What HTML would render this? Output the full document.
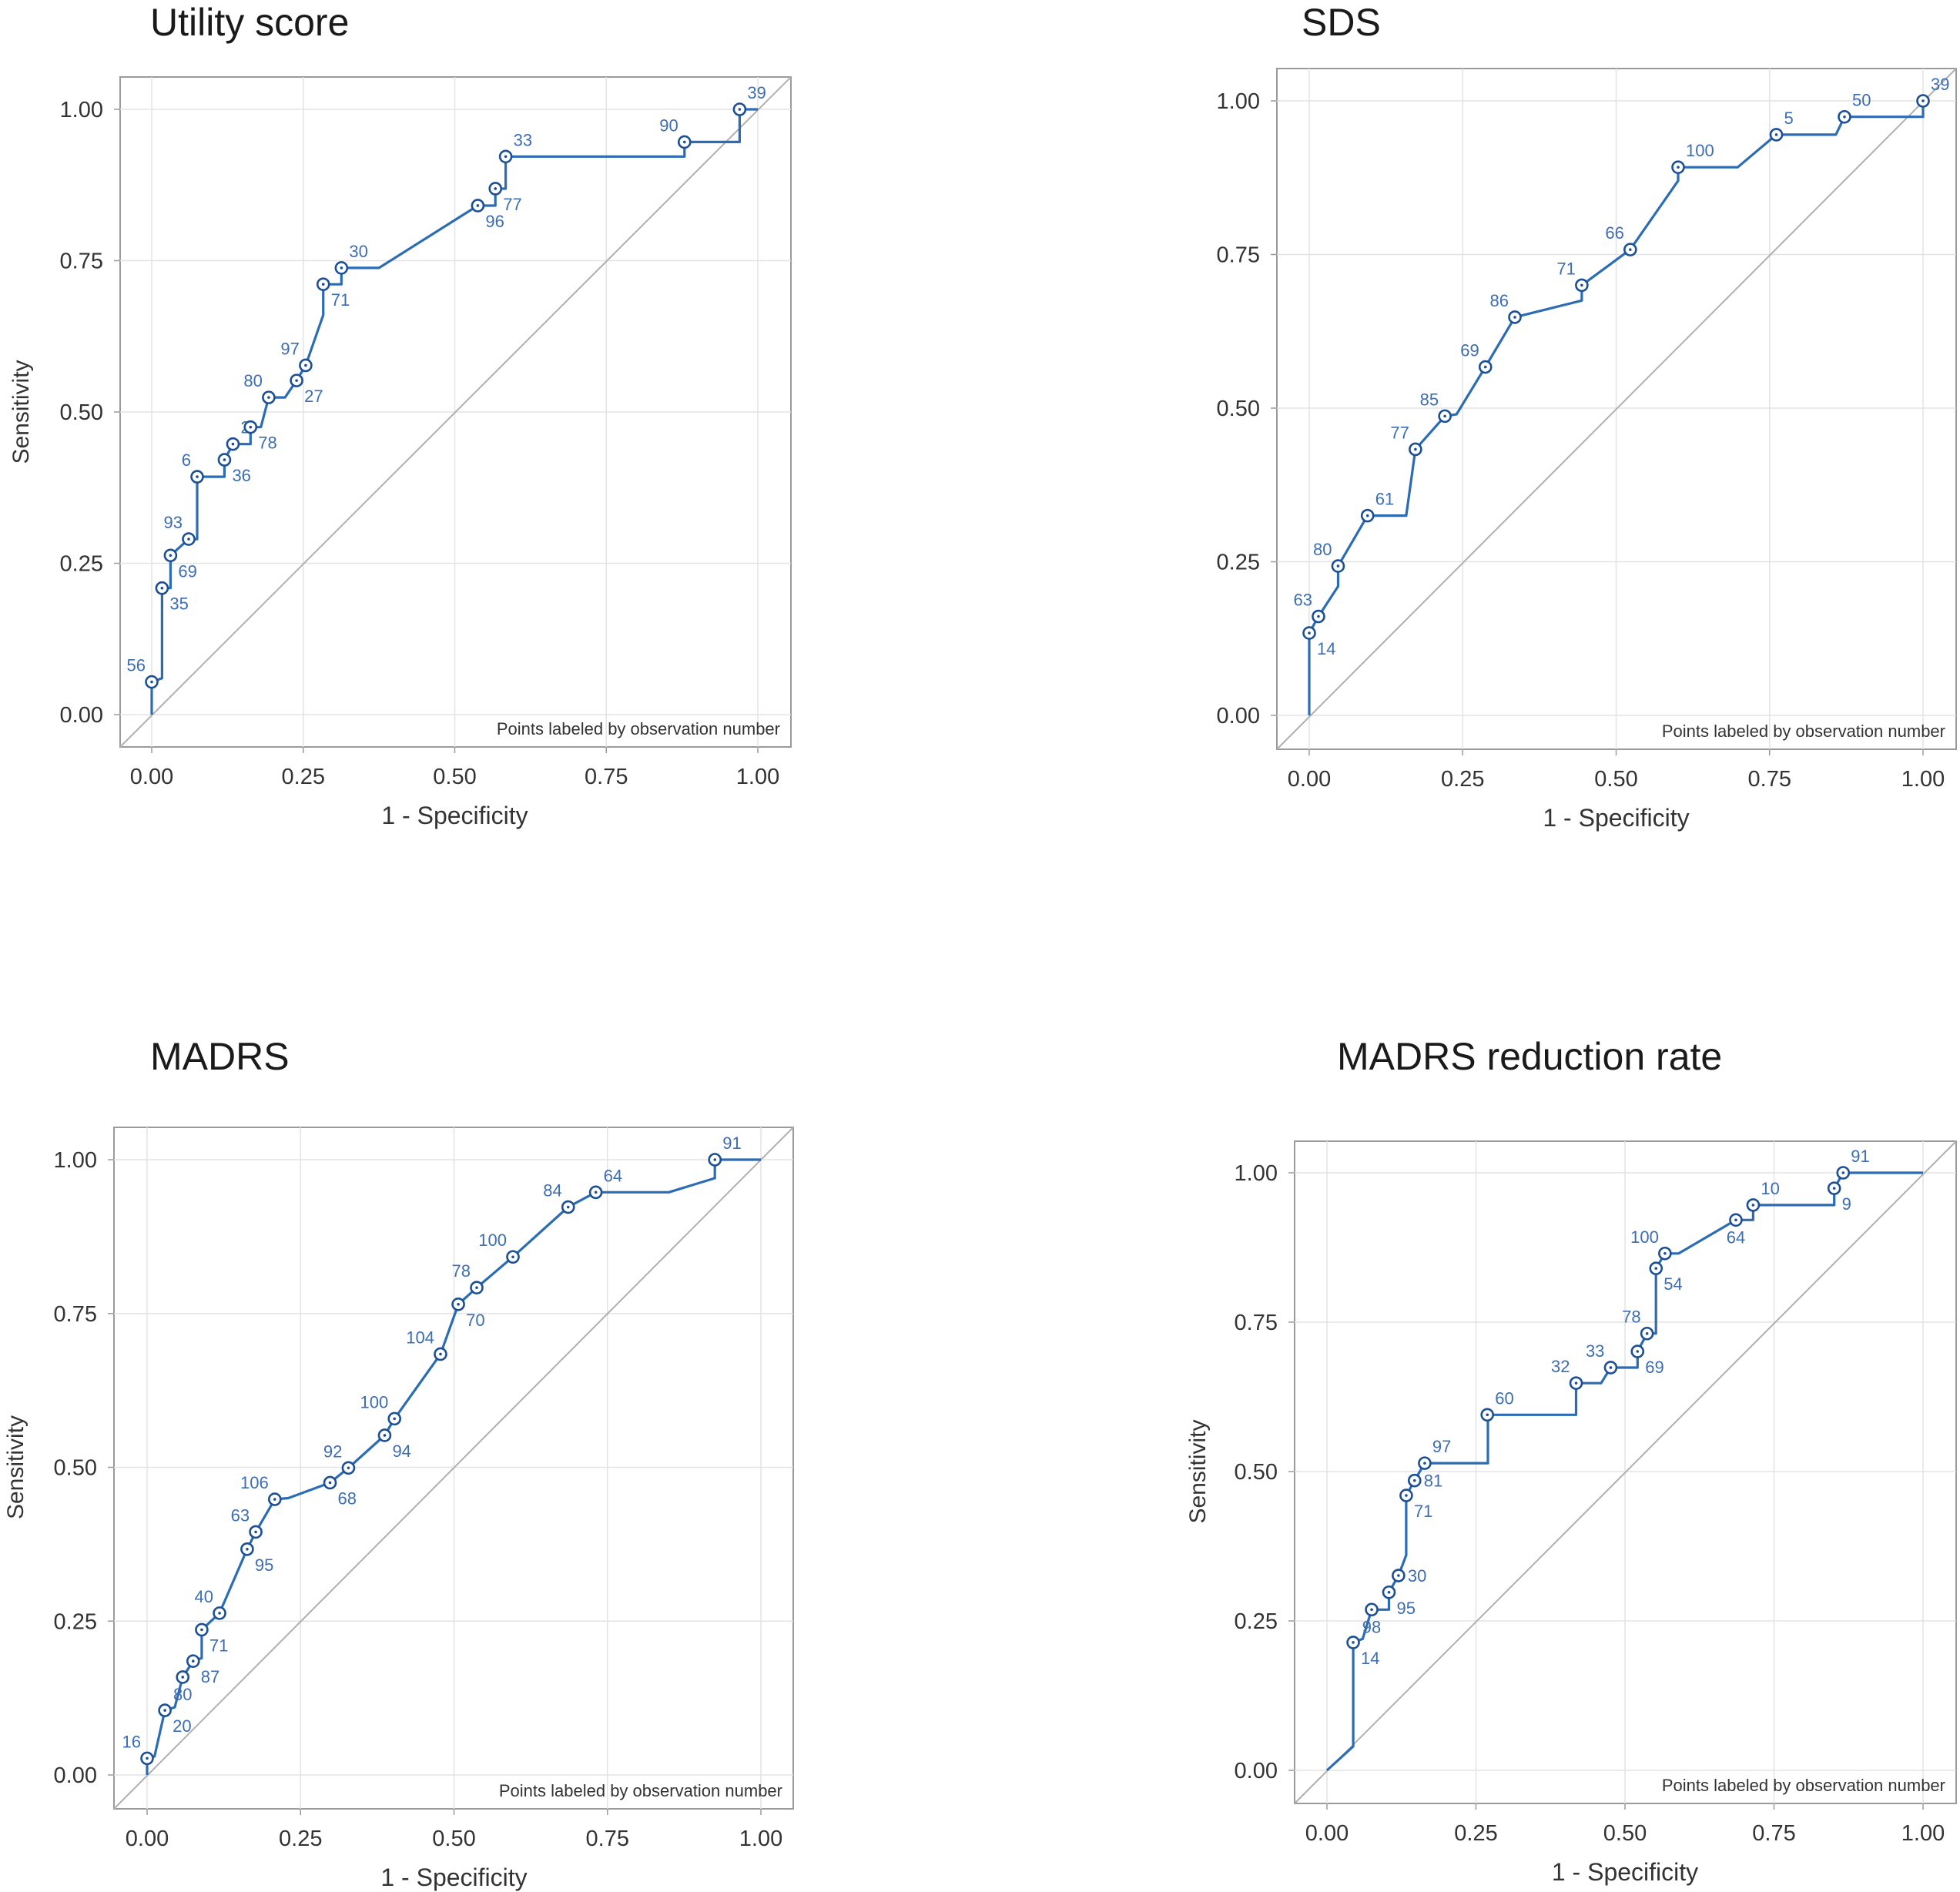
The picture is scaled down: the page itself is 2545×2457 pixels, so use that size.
<!DOCTYPE html>
<html><head><meta charset="utf-8"><style>
html,body{margin:0;padding:0;background:#fff;}
svg{display:block;}
text{font-family:"Liberation Sans",Arial,sans-serif;}
</style></head><body>
<svg id="fig" width="2545" height="2457" viewBox="0 0 2545 2457" xmlns="http://www.w3.org/2000/svg"></svg>
<script>
// ---- Panel 1: Utility score ----
const p1Labels = ["56","35","69","93","6","36","2","78","80","27","97","71","30","96","77","33","90","39"];
const p1X = [0,0.017,0.031,0.061,0.075,0.12,0.134,0.163,0.193,0.239,0.254,0.283,0.313,0.538,0.567,0.584,0.879,0.97];
const p1Y = [0.054,0.209,0.263,0.29,0.393,0.421,0.447,0.475,0.524,0.552,0.577,0.711,0.738,0.841,0.869,0.922,0.946,1.0];
const p1Pos = ["ul","lr","lr","ul","ul","lr","ur","lr","ul","lr","ul","lr","ur","lr","lr","ur","ul","ur"];
const p1PathX = [0,0,0.017,0.017,0.031,0.031,0.061,0.075,0.075,0.12,0.12,0.134,0.163,0.163,0.18,0.193,0.22,0.239,0.254,0.283,0.283,0.313,0.313,0.375,0.538,0.567,0.567,0.584,0.584,0.879,0.879,0.97,0.97,1];
const p1PathY = [0,0.054,0.06,0.209,0.209,0.263,0.29,0.29,0.393,0.393,0.421,0.447,0.447,0.475,0.475,0.524,0.524,0.552,0.577,0.66,0.711,0.711,0.738,0.738,0.841,0.841,0.869,0.869,0.922,0.922,0.946,0.946,1,1];
// ---- Panel 2: SDS ----
const p2Labels = ["14","63","80","61","77","85","69","86","71","66","100","5","50","39"];
const p2X = [0,0.015,0.047,0.095,0.173,0.221,0.287,0.335,0.444,0.523,0.601,0.761,0.872,1];
const p2Y = [0.134,0.161,0.243,0.325,0.433,0.487,0.567,0.648,0.7,0.758,0.892,0.945,0.974,1];
const p2Pos = ["lr","ul","ul","ur","ul","ul","ul","ul","ul","ul","ur","ur","ur","ur"];
const p2PathX = [0,0,0.015,0.047,0.047,0.095,0.158,0.173,0.221,0.24,0.287,0.335,0.444,0.444,0.523,0.601,0.601,0.698,0.761,0.858,0.872,1,1];
const p2PathY = [0,0.134,0.161,0.21,0.243,0.325,0.325,0.433,0.487,0.49,0.567,0.648,0.675,0.7,0.758,0.87,0.892,0.892,0.945,0.945,0.974,0.974,1];
// ---- Panel 3: MADRS ----
const p3Labels = ["16","20","80","87","71","40","95","63","106","68","92","94","100","104","70","78","100","84","64","91"];
const p3X = [0,0.029,0.058,0.075,0.089,0.118,0.163,0.177,0.208,0.298,0.328,0.387,0.403,0.478,0.507,0.537,0.596,0.686,0.731,0.925];
const p3Y = [0.027,0.105,0.159,0.185,0.236,0.263,0.367,0.395,0.448,0.475,0.499,0.552,0.579,0.684,0.765,0.792,0.842,0.923,0.947,1.0];
const p3Pos = ["ul","lr","lb","lr","lr","ul","lr","ul","ul","lr","ul","lr","ul","ul","lr","ul","ul","ul","ur","ur"];
const p3PathX = [0,0,0.012,0.029,0.045,0.058,0.075,0.089,0.089,0.118,0.163,0.177,0.208,0.23,0.298,0.328,0.387,0.403,0.478,0.507,0.537,0.596,0.686,0.731,0.85,0.925,0.925,1];
const p3PathY = [0,0.027,0.03,0.105,0.11,0.159,0.185,0.19,0.236,0.263,0.367,0.395,0.448,0.45,0.475,0.499,0.552,0.579,0.684,0.765,0.792,0.842,0.923,0.947,0.947,0.97,1,1];
// ---- Panel 4: MADRS reduction rate ----
const p4Labels = ["14","98","95","30","71","81","97","60","32","33","69","78","54","100","64","10","9","91"];
const p4X = [0.044,0.075,0.104,0.12,0.133,0.147,0.164,0.269,0.418,0.476,0.521,0.537,0.552,0.567,0.686,0.715,0.851,0.866];
const p4Y = [0.214,0.269,0.298,0.326,0.46,0.485,0.514,0.595,0.648,0.674,0.701,0.731,0.84,0.865,0.921,0.946,0.974,1.0];
const p4Pos = ["lr","lb","lr","r","lr","r","ur","ur","ul","ul","lr","ul","lr","ul","lb","ur","lr","ur"];
const p4PathX = [0,0.044,0.044,0.06,0.075,0.104,0.104,0.12,0.133,0.133,0.147,0.164,0.27,0.27,0.418,0.418,0.46,0.476,0.521,0.521,0.537,0.552,0.552,0.567,0.59,0.686,0.715,0.715,0.851,0.851,0.866,1];
const p4PathY = [0,0.04,0.214,0.22,0.269,0.269,0.298,0.326,0.36,0.46,0.485,0.514,0.514,0.595,0.595,0.648,0.648,0.674,0.674,0.701,0.731,0.731,0.84,0.865,0.865,0.921,0.921,0.946,0.946,0.974,1,1];
const tickVals = [0,0.25,0.5,0.75,1];
const tickLabels = ["0.00","0.25","0.50","0.75","1.00"];

const NS = "http://www.w3.org/2000/svg";
const fig = document.getElementById('fig');
function mk(tag, attrs, parent, txt){
  const e = document.createElementNS(NS, tag);
  for (const k in attrs) e.setAttribute(k, attrs[k]);
  if (txt !== undefined) e.textContent = txt;
  parent.appendChild(e);
  return e;
}
function panel(cfg){
  const g = mk('g', {}, fig);
  
  
  const sx = v => cfg.x0 + v * (cfg.x1 - cfg.x0);
  const sy = v => cfg.y0 - v * (cfg.y0 - cfg.y1);
  const title = mk('text', {x: cfg.tx, y: cfg.ty, 'font-size': 50, fill: '#1a1a1a'}, g, cfg.title);
  
  
  const box = mk('rect', {x: cfg.bl, y: cfg.bt, width: cfg.br - cfg.bl, height: cfg.bb - cfg.bt, fill: '#fff', stroke: '#9a9a9a', 'stroke-width': 2}, g);
  
  
  tickVals.forEach((v, i) => {
    const gx = mk('line', {x1: sx(v), x2: sx(v), y1: cfg.bt, y2: cfg.bb, stroke: '#e3e3e3', 'stroke-width': 1.5}, g);
    
    
    const gy = mk('line', {x1: cfg.bl, x2: cfg.br, y1: sy(v), y2: sy(v), stroke: '#e3e3e3', 'stroke-width': 1.5}, g);
    
    
    mk('line', {x1: sx(v), x2: sx(v), y1: cfg.bb, y2: cfg.bb + 8, stroke: '#9a9a9a', 'stroke-width': 1.5}, g);
    mk('line', {x1: cfg.bl - 8, x2: cfg.bl, y1: sy(v), y2: sy(v), stroke: '#9a9a9a', 'stroke-width': 1.5}, g);
    const xl = mk('text', {x: sx(v), y: cfg.bb + 48, 'font-size': 29, fill: '#333', 'text-anchor': 'middle'}, g, tickLabels[i]);
    
    
    const yl = mk('text', {x: cfg.bl - 22, y: sy(v) + 10, 'font-size': 29, fill: '#333', 'text-anchor': 'end'}, g, tickLabels[i]);
    
    
  });
  const diag = mk('line', {x1: cfg.bl, y1: cfg.bb, x2: cfg.br, y2: cfg.bt, stroke: '#b0b0b0', 'stroke-width': 2}, g);
  
  
  let d = '';
  cfg.px.forEach((v, i) => { d += (i ? 'L' : 'M') + sx(v).toFixed(1) + ',' + sy(cfg.py[i]).toFixed(1); });
  const curve = mk('path', {d: d, fill: 'none', stroke: '#2b6cb5', 'stroke-width': 3.2, 'stroke-linejoin': 'round'}, g);
  
  
  cfg.lx.forEach((v, i) => {
    const cx = sx(v), cy = sy(cfg.ly[i]);
    const c = mk('circle', {cx: cx, cy: cy, r: 7.5, fill: '#fff', stroke: '#1d4f94', 'stroke-width': 2.6}, g);
    
    
    mk('circle', {cx: cx, cy: cy, r: 1.8, fill: '#1d4f94'}, g);
    const p = cfg.pos[i];
    let tx = cx, ty = cy, anc = 'start';
    if (p === 'ul') { tx = cx - 8; ty = cy - 14; anc = 'end'; }
    else if (p === 'ur') { tx = cx + 10; ty = cy - 14; }
    else if (p === 'lr') { tx = cx + 10; ty = cy + 28; }
    else if (p === 'lb') { tx = cx; ty = cy + 30; anc = 'middle'; }
    else if (p === 'r') { tx = cx + 12; ty = cy + 8; }
    const t = mk('text', {x: tx, y: ty, 'font-size': 22, fill: '#3d6db3', 'text-anchor': anc}, g, cfg.lab[i]);
    
    
  });
  const note = mk('text', {x: cfg.br - 14, y: cfg.bb - 16, 'font-size': 22, fill: '#333', 'text-anchor': 'end'}, g, 'Points labeled by observation number');
  
  
  const xt = mk('text', {x: (cfg.x0 + cfg.x1) / 2, y: cfg.bb + 100, 'font-size': 32, fill: '#333', 'text-anchor': 'middle'}, g, '1 - Specificity');
  
  
  if (cfg.ytx) {
    const cyc = (cfg.y0 + cfg.y1) / 2;
    const yt = mk('text', {x: cfg.ytx, y: cyc, 'font-size': 30, fill: '#333', 'text-anchor': 'middle', transform: 'rotate(-90 ' + cfg.ytx + ' ' + cyc + ')'}, g, 'Sensitivity');
    
    
  }
}
panel({name:'utility-score', title:'Utility score', tx:195, ty:46, bl:156, br:1027, bt:100, bb:970, x0:197, x1:984, y0:928, y1:142, ytx:37,
  lab:p1Labels, lx:p1X, ly:p1Y, pos:p1Pos, px:p1PathX, py:p1PathY});
panel({name:'sds', title:'SDS', tx:1690, ty:46, bl:1658, br:2540, bt:89, bb:973, x0:1700, x1:2497, y0:929, y1:131, ytx:null,
  lab:p2Labels, lx:p2X, ly:p2Y, pos:p2Pos, px:p2PathX, py:p2PathY});
panel({name:'madrs', title:'MADRS', tx:195, ty:1389, bl:148, br:1030, bt:1464, bb:2349, x0:191, x1:988, y0:2305, y1:1506, ytx:30,
  lab:p3Labels, lx:p3X, ly:p3Y, pos:p3Pos, px:p3PathX, py:p3PathY});
panel({name:'madrs-reduction-rate', title:'MADRS reduction rate', tx:1736, ty:1389, bl:1681, br:2540, bt:1482, bb:2342, x0:1723, x1:2497, y0:2299, y1:1523, ytx:1565,
  lab:p4Labels, lx:p4X, ly:p4Y, pos:p4Pos, px:p4PathX, py:p4PathY});
</script>
</body></html>
